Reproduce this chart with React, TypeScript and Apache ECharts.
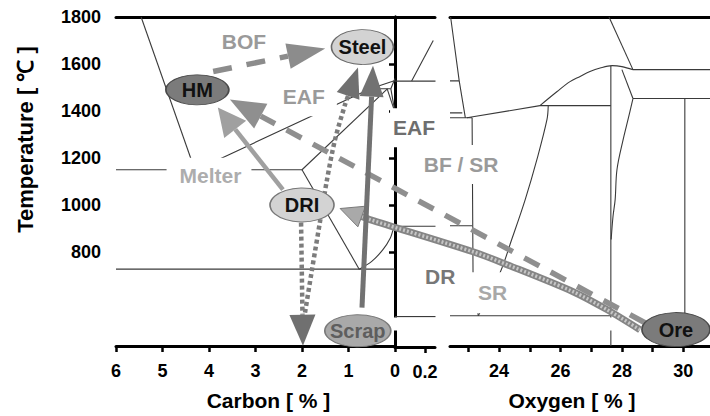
import React, { useEffect, useRef } from 'react';
import * as echarts from 'echarts';

type Pt = [number, number];
type Frame = 'C' | 'S' | 'O';
type FPt = [Frame, number, number];

// ---- Fe–C side: carbon [%] vs temperature [°C] ----
const feCLines: Pt[][] = [
  [[4.3, 1147], [5.46, 1800]],
  [[4.3, 1147], [0.53, 1495], [0, 1530]],
  [[6, 1150], [2.0, 1150]],
  [[2.0, 1150], [0.17, 1493]],
  [[0.53, 1495], [0.09, 1495]],
  [[0, 1538], [0.09, 1495]],
  [[0.09, 1495], [0, 1394]],
  [[0.17, 1495], [0, 1394]],
  [[2.0, 1150], [0.77, 727]],
  [[6, 727], [0, 727]],
];
const feCCurves: Pt[][] = [
  [[0.77, 727], [0.5, 760], [0.26, 810], [0.1, 860], [0.04, 895], [0, 912]],
];

// ---- Fe–O side, near pure iron: oxygen 0–0.27 % ----
const feOLowLines: Pt[][] = [
  [[0, 1528], [0.27, 1528]],
  [[0.111, 1528], [0.255, 1700]],
  [[0, 1392], [0.27, 1392]],
  [[0, 1371], [0.27, 1371]],
  [[0, 912], [0.27, 912]],
  [[0, 529], [0.27, 529]],
];

// ---- Fe–O side: oxygen 22.4–31 % ----
const feOLines: Pt[][] = [
  [[22.42, 1800], [22.7, 1528], [22.9, 1371]],
  [[22.4, 1528], [22.7, 1528]],
  [[22.4, 1392], [22.8, 1392]],
  [[22.4, 1371], [23.12, 1371]],
  [[22.4, 912], [23.12, 912]],
  [[22.4, 529], [27.64, 529]],
  [[22.95, 1371], [25.33, 1423]],
  [[23.12, 1371], [23.15, 712], [23.32, 529]],
  [[25.33, 1423], [27.64, 1423]],
  [[27.58, 1800], [28.36, 1576]],
  [[28.36, 1576], [30.9, 1576]],
  [[28.0, 1576], [28.36, 1453]],
  [[27.64, 1593], [27.64, 400]],
  [[28.36, 1453], [30.9, 1453]],
  [[30.05, 1453], [30.05, 400]],
];
const feOCurves: Pt[][] = [
  [[25.6, 1423], [25.56, 1364], [25.23, 1193], [24.85, 1023], [24.41, 853], [24.03, 712], [23.32, 529]],
  [[25.33, 1423], [25.89, 1483], [26.31, 1525], [26.64, 1547], [26.96, 1568], [27.29, 1583], [27.68, 1593], [28.0, 1589], [28.36, 1576]],
  [[28.36, 1453], [28.2, 1364], [28.04, 1278], [27.84, 1151], [27.78, 1023], [27.71, 951], [27.65, 853]],
];

// ---- process nodes ----
const carbonNodeNames = ['HM', 'Steel', 'DRI', 'Scrap'];
const carbonNodeC = [4.25, 0.7, 2.0, 0.8];
const carbonNodeT = [1490, 1672, 1000, 465];
const oxygenNodeNames = ['Ore'];
const oxygenNodeO = [29.76];
const oxygenNodeT = [470];

// ---- process routes (frame, abscissa, °C) ----
const bofRoute: FPt[] = [['C', 3.91, 1568], ['C', 1.5, 1666]];
const driToHmRoute: FPt[] = [['C', 2.41, 1065], ['C', 3.81, 1415]];
const oreToHmRoute: FPt[] = [['O', 28.75, 499], ['C', 3.55, 1449]];
const oreToDriRoute: FPt[] = [
  ['O', 28.59, 469], ['O', 27.51, 555], ['O', 26.41, 631], ['O', 24.26, 746], ['O', 23.15, 801],
  ['C', 0.54, 938], ['C', 1.18, 985],
];
const scrapToSteelRoute: FPt[] = [['C', 0.71, 563], ['C', 0.473, 1593]];
const driCoolRoute: FPt[] = [['C', 2.02, 925], ['C', 1.98, 401]];
const driToSteelRoute: FPt[] = [
  ['C', 1.935, 542], ['C', 1.785, 725], ['C', 1.613, 929], ['C', 1.462, 1108],
  ['C', 1.29, 1278], ['C', 1.075, 1427], ['C', 0.796, 1585],
];

// ---- route / region captions ----
const captionTexts = ['BOF', 'EAF', 'Melter', 'EAF', 'BF / SR', 'DR', 'SR'];
const captionAnchors: FPt[] = [
  ['C', 3.25, 1696], ['C', 1.96, 1461], ['C', 4.0, 1125], ['S', 0.127, 1330],
  ['O', 22.76, 1172], ['O', 22.08, 695], ['O', 23.67, 627],
];

// axis break band (°C)
const breakBand: [number, number] = [521, 466];

const tempTicks = [800, 1000, 1200, 1400, 1600, 1800];
const oxygenTicks = [23, 24, 25, 26, 27, 28, 29, 30];
const oxygenLabels = [24, 26, 28, 30];

const FONT = '"Liberation Sans", Arial, Helvetica, sans-serif';

const frames: Record<Frame, { xAxisIndex: number; yAxisIndex: number }> = {
  C: { xAxisIndex: 0, yAxisIndex: 0 },
  S: { xAxisIndex: 1, yAxisIndex: 1 },
  O: { xAxisIndex: 2, yAxisIndex: 2 },
};

const nodeStyles: Record<string, { size: number[]; fill: string; border: string; text: string }> = {
  HM: { size: [63, 30], fill: '#7b7b7b', border: '#4a4a4a', text: '#111111' },
  Steel: { size: [62, 35], fill: '#d3d3d3', border: '#6a6a6a', text: '#111111' },
  DRI: { size: [64, 34], fill: '#d3d3d3', border: '#777777', text: '#111111' },
  Scrap: { size: [66, 32], fill: '#a9a9a9', border: '#7a7a7a', text: '#5e5e5e' },
  Ore: { size: [68, 34], fill: '#7b7b7b', border: '#4a4a4a', text: '#111111' },
};

const captionStyles = [
  { color: '#9a9a9a', pad: [0, 0, 0, 0], bg: false },
  { color: '#9a9a9a', pad: [8, 12, 10, 12], bg: true },
  { color: '#adadad', pad: [10, 10, 5, 13], bg: true },
  { color: '#6e6e6e', pad: [8, 3, 10, 3], bg: true },
  { color: '#9a9a9a', pad: [10, 2, 8, 2], bg: true },
  { color: '#777777', pad: [0, 0, 0, 0], bg: false },
  { color: '#a8a8a8', pad: [10, 2, 10, 9], bg: true },
];

function phaseSeries(lines: Pt[][], axis: number, smooth: boolean) {
  return lines.map((pts) => ({
    type: 'line',
    xAxisIndex: axis,
    yAxisIndex: axis,
    data: pts,
    showSymbol: false,
    symbol: 'none',
    smooth: smooth ? 0.35 : false,
    silent: true,
    z: 2,
    lineStyle: { color: '#3a3a3a', width: 1.1 },
  }));
}

// one scatter series per node, so each label carries its own colour
function nodeSeries(names: string[], xs: number[], ts: number[], axis: number) {
  return names.map((n, i) => {
    const s = nodeStyles[n];
    return {
      type: 'scatter',
      name: n,
      xAxisIndex: axis,
      yAxisIndex: axis,
      z: 20,
      silent: true,
      symbol: 'circle',
      symbolSize: s.size,
      itemStyle: { color: s.fill, borderColor: s.border, borderWidth: 1.2, opacity: 1 },
      data: [{ name: n, value: [xs[i], ts[i]] }],
      label: {
        show: true,
        position: 'inside',
        formatter: '{b}',
        color: s.text,
        textBorderColor: 'transparent',
        textBorderWidth: 0,
        fontFamily: FONT,
        fontWeight: 'bold',
        fontSize: 20,
      },
    };
  });
}

const plain = (v: number) => String(v);
const tickLabel = { color: '#000', fontSize: 18, fontWeight: 'bold', fontFamily: FONT, formatter: plain };
const thickLine = { lineStyle: { color: '#000', width: 3 } };
const nameStyle = { fontSize: 21, fontWeight: 'bold', color: '#000', fontFamily: FONT };

function buildOption() {
  const topAxis = (grid: number, min: number, max: number, inverse = false) => ({
    gridIndex: grid, type: 'value', position: 'top', min, max, inverse,
    axisLine: thickLine, axisTick: { show: false }, axisLabel: { show: false }, splitLine: { show: false },
  });
  return {
    animation: false,
    backgroundColor: '#fff',
    grid: [
      { left: 116, top: 17, width: 279, height: 330 },
      { left: 395, top: 17, width: 40, height: 330 },
      { left: 450, top: 17, width: 260, height: 330 },
    ],
    xAxis: [
      {
        gridIndex: 0, type: 'value', min: 0, max: 6, interval: 1, inverse: true, position: 'bottom',
        axisLine: thickLine,
        axisTick: { length: 6, lineStyle: { width: 2.5, color: '#000' } },
        axisLabel: { ...tickLabel, margin: 16 },
        splitLine: { show: false },
        name: 'Carbon [ % ]', nameLocation: 'middle', nameGap: 44,
        nameTextStyle: { ...nameStyle, padding: [0, 0, 0, 26] },
      },
      {
        gridIndex: 1, type: 'value', min: 0, max: 0.2667, position: 'bottom',
        axisLine: thickLine,
        axisTick: { length: 6, lineStyle: { width: 2.5, color: '#000' }, customValues: [0.2] },
        axisLabel: { ...tickLabel, margin: 16, customValues: [0.2] },
        splitLine: { show: false },
      },
      {
        gridIndex: 2, type: 'value', min: 22.4, max: 30.87, position: 'bottom',
        axisLine: thickLine,
        axisTick: { length: 6, lineStyle: { width: 2.5, color: '#000' }, customValues: oxygenTicks },
        axisLabel: { ...tickLabel, margin: 16, customValues: oxygenLabels },
        splitLine: { show: false },
        name: 'Oxygen [ % ]', nameLocation: 'middle', nameGap: 44,
        nameTextStyle: { ...nameStyle, padding: [0, 16, 0, 0] },
      },
      topAxis(0, 0, 6, true),
      topAxis(1, 0, 0.2667),
      topAxis(2, 22.4, 30.87),
    ],
    yAxis: [
      {
        gridIndex: 0, type: 'value', min: 400, max: 1800,
        axisLine: thickLine,
        axisTick: { length: 6, lineStyle: { width: 2.5, color: '#000' }, customValues: tempTicks },
        axisLabel: { ...tickLabel, margin: 15, customValues: tempTicks },
        splitLine: { show: false },
        name: 'Temperature [ ℃ ]', nameLocation: 'middle', nameGap: 80,
        nameTextStyle: { ...nameStyle, fontSize: 22, padding: [0, 0, 0, 84] },
      },
      {
        gridIndex: 1, type: 'value', min: 400, max: 1800,
        axisLine: thickLine, axisTick: { show: false }, axisLabel: { show: false }, splitLine: { show: false },
      },
      {
        gridIndex: 2, type: 'value', min: 400, max: 1800,
        axisLine: { show: false }, axisTick: { show: false }, axisLabel: { show: false }, splitLine: { show: false },
      },
    ],
    series: [
      ...phaseSeries(feCLines, 0, false),
      ...phaseSeries(feCCurves, 0, true),
      ...phaseSeries(feOLowLines, 1, false),
      ...phaseSeries(feOLines, 2, false),
      ...phaseSeries(feOCurves, 2, true),
      ...nodeSeries(carbonNodeNames, carbonNodeC, carbonNodeT, 0),
      ...nodeSeries(oxygenNodeNames, oxygenNodeO, oxygenNodeT, 2),
    ],
  };
}

interface ArrowOpts {
  color: string;
  width: number;
  head: number;
  half: number;
  z: number;
  dash?: number[];
  smooth?: number;
  headFill?: string;
  headStroke?: string;
  overlay?: { color: string; width: number; dash: number[] };
}

function buildOverlay(chart: echarts.ECharts) {
  const toPx = (p: FPt) => chart.convertToPixel(frames[p[0]], [p[1], p[2]]) as unknown as number[];
  const els: any[] = [];

  const arrow = (route: FPt[], o: ArrowOpts) => {
    const pts = route.map(toPx);
    const tip = pts[pts.length - 1];
    const prev = pts[pts.length - 2];
    const dx = tip[0] - prev[0];
    const dy = tip[1] - prev[1];
    const len = Math.hypot(dx, dy);
    const ux = dx / len;
    const uy = dy / len;
    const base = [tip[0] - ux * o.head, tip[1] - uy * o.head];
    const shaft = [...pts.slice(0, -1), base];
    els.push({
      type: 'polyline', z: o.z, silent: true,
      shape: { points: shaft, smooth: o.smooth || 0 },
      style: { stroke: o.color, lineWidth: o.width, lineDash: o.dash || null, fill: null, lineCap: 'butt' },
    });
    if (o.overlay) {
      els.push({
        type: 'polyline', z: o.z, z2: 1, silent: true,
        shape: { points: shaft, smooth: o.smooth || 0 },
        style: { stroke: o.overlay.color, lineWidth: o.overlay.width, lineDash: o.overlay.dash, fill: null, lineCap: 'butt' },
      });
    }
    els.push({
      type: 'polygon', z: o.z, z2: 2, silent: true,
      shape: {
        points: [
          tip,
          [base[0] - uy * o.half, base[1] + ux * o.half],
          [base[0] + uy * o.half, base[1] - ux * o.half],
        ],
      },
      style: { fill: o.headFill || o.color, stroke: o.headStroke || null, lineWidth: 1 },
    });
  };

  // broken-axis band
  const yTop = toPx(['C', 0, breakBand[0]])[1];
  const yBot = toPx(['C', 0, breakBand[1]])[1];
  els.push({
    type: 'rect', z: 4, silent: true,
    shape: { x: 100, y: yTop, width: 610, height: yBot - yTop },
    style: { fill: '#fff' },
  });

  // captions
  captionTexts.forEach((t, i) => {
    const [x, y] = toPx(captionAnchors[i]);
    const s = captionStyles[i];
    els.push({
      type: 'text', z: 5, silent: true, x, y,
      style: {
        text: t,
        fill: s.color,
        font: `bold 21px ${FONT}`,
        align: 'center',
        verticalAlign: 'middle',
        backgroundColor: s.bg ? '#fff' : null,
        padding: s.pad,
      },
    });
  });

  arrow(oreToDriRoute, {
    color: '#858585', width: 7, head: 23, half: 11, z: 10, smooth: 0.3,
    headFill: '#a9a9a9', headStroke: '#7a7a7a',
    overlay: { color: '#c6c6c6', width: 3.5, dash: [2, 2] },
  });
  arrow(oreToHmRoute, { color: '#8f8f8f', width: 5.5, head: 35, half: 14, z: 11, dash: [17, 13] });
  arrow(driCoolRoute, { color: '#7c7c7c', width: 4.5, head: 31, half: 13, z: 12, dash: [4, 3], headFill: '#707070' });
  arrow(driToSteelRoute, { color: '#7c7c7c', width: 4.5, head: 30, half: 12, z: 12, dash: [4, 3], smooth: 0.3, headFill: '#707070' });
  arrow(driToHmRoute, { color: '#a0a0a0', width: 4.5, head: 28, half: 14, z: 13 });
  arrow(scrapToSteelRoute, { color: '#727272', width: 5, head: 31, half: 12, z: 14 });
  arrow(bofRoute, { color: '#8c8c8c', width: 5.5, head: 38, half: 13, z: 15, dash: [19, 15] });

  return els;
}

export default function App() {
  const ref = useRef<HTMLDivElement>(null);
  useEffect(() => {
    if (!ref.current) return;
    const chart = echarts.init(ref.current, undefined, { renderer: 'svg' });
    chart.setOption(buildOption() as any);
    chart.setOption({ graphic: buildOverlay(chart) } as any);
    return () => chart.dispose();
  }, []);
  return (
    <div
      ref={ref}
      style={{ position: 'fixed', left: 0, top: 0, width: 710, height: 416, background: '#fff' }}
    />
  );
}
